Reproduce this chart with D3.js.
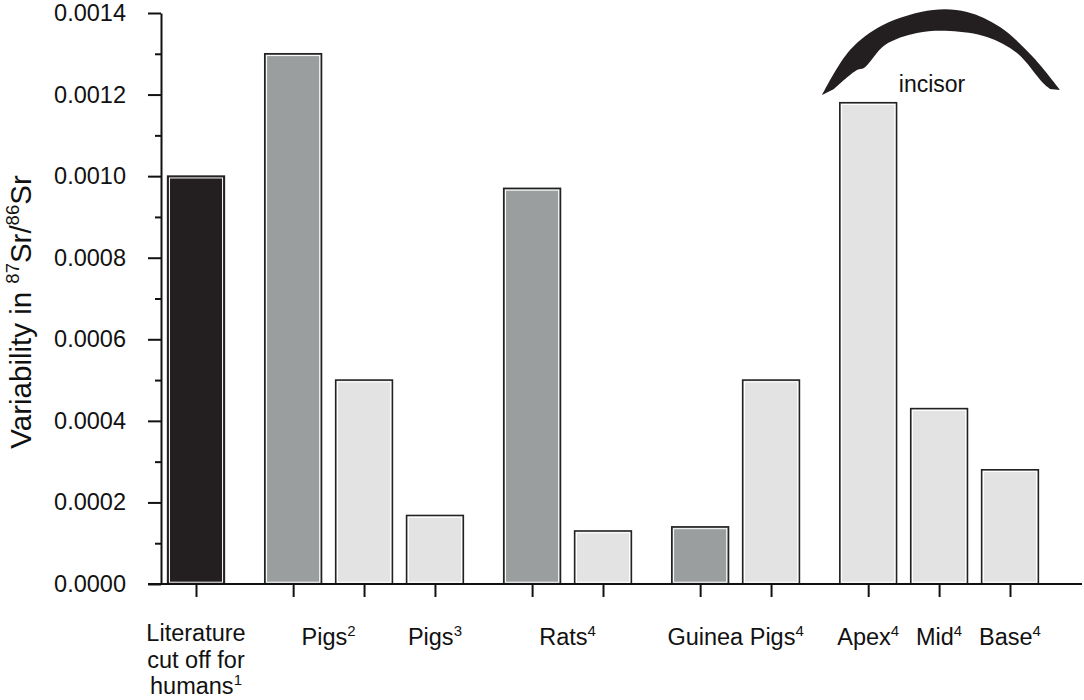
<!DOCTYPE html>
<html>
<head>
<meta charset="utf-8">
<script src="https://cdn.jsdelivr.net/npm/d3@7"></script>
<style>
  body { margin: 0; background: #fff; }
  text { font-family: "Liberation Sans", Arial, sans-serif; fill: #111; }
</style>
</head>
<body>
<div class="canva"></div>
<script>
// bar labels (notes are the superscript reference numbers)
const barLabels = ["Literature cut off for humans", "Pigs", "Pigs", "Pigs", "Rats", "Rats", "Guinea Pigs", "Guinea Pigs", "Apex", "Mid", "Base"]
const labelNotes = ["1", "2", "2", "3", "4", "4", "4", "4", "4", "4", "4"]
const values = [0.0010, 0.0013, 0.0005, 0.000168, 0.00097, 0.00013, 0.00014, 0.0005, 0.00118, 0.00043, 0.00028]
const shades = ["black", "dark", "light", "light", "dark", "light", "dark", "light", "light", "light", "light"]
const groups = [0, 1, 1, 1, 2, 2, 3, 3, 4, 4, 4]
const yTicks = [0, 0.0002, 0.0004, 0.0006, 0.0008, 0.0010, 0.0012, 0.0014]
const yMinorTicks = [0.0001, 0.0003, 0.0005, 0.0007, 0.0009, 0.0011, 0.0013]

const colors = {black: "#231f20", dark: "#9b9e9e", light: "#e3e3e3"}

const W = 1084, H = 700
const svg = d3.select('.canva').append("svg")
  .attr("width", W).attr("height", H)

const gap = 0.37
const slot = values.map((d, i) => i + groups[i] * gap)

const x = d3.scaleLinear()
  .domain([0, d3.max(slot)])
  .range([196, 1010])

const y = d3.scaleLinear()
  .domain([0, 0.0014])
  .range([584, 13])

const barW = (x(1) - x(0)) * 0.8

// bars
const bars = svg.selectAll("g.bar")
  .data(values)
  .enter().append("g").attr("class", "bar")

bars.append("rect")
  .attr("x", (d, i) => x(slot[i]) - barW / 2)
  .attr("y", d => y(d))
  .attr("width", barW)
  .attr("height", d => y(0) - y(d))
  .attr("fill", (d, i) => colors[shades[i]])
  .attr("stroke", "#222")
  .attr("stroke-width", 1.6)

// thin white inner edge
bars.append("rect")
  .attr("x", (d, i) => x(slot[i]) - barW / 2 + 1.8)
  .attr("y", d => y(d) + 1.8)
  .attr("width", barW - 3.6)
  .attr("height", d => Math.max(0, y(0) - y(d) - 3.6))
  .attr("fill", "none")
  .attr("stroke", "#fff")
  .attr("stroke-width", 1)

// x axis
const xAxis = svg.append("g")
  .attr("transform", `translate(0, ${y(0)})`)
  .call(d3.axisBottom(x).tickValues(slot).tickFormat("").tickSize(13).tickSizeOuter(0))
xAxis.select(".domain").remove()
xAxis.selectAll("line").attr("stroke", "#111").attr("stroke-width", 2)

svg.append("line")
  .attr("x1", 148).attr("x2", 1082)
  .attr("y1", y(0)).attr("y2", y(0))
  .attr("stroke", "#111").attr("stroke-width", 2)

// y axis
const yMinor = svg.append("g")
  .attr("transform", "translate(161, 0)")
  .call(d3.axisLeft(y).tickValues(yMinorTicks).tickFormat("").tickSize(6).tickSizeOuter(0))
yMinor.select(".domain").remove()
yMinor.selectAll("line").attr("stroke", "#111").attr("stroke-width", 2)

const yAxis = svg.append("g")
  .attr("transform", "translate(161, 0)")
  .call(d3.axisLeft(y).tickValues(yTicks).tickFormat(d3.format(".4f")).tickSize(13).tickSizeOuter(0).tickPadding(22))
yAxis.select(".domain").attr("stroke", "#111").attr("stroke-width", 2)
yAxis.selectAll("line").attr("stroke", "#111").attr("stroke-width", 2)
yAxis.selectAll("text")
  .style("font-family", '"Liberation Sans", Arial, sans-serif')
  .style("font-size", "23.5px").attr("fill", "#111")

// y title
const yTitle = svg.append("text")
  .attr("transform", "translate(31, 312) rotate(-90)")
  .attr("text-anchor", "middle")
  .style("font-size", "29.5px")
yTitle.append("tspan").text("Variability in ")
yTitle.append("tspan").text("87").style("font-size", "18.5px").attr("dy", -12)
yTitle.append("tspan").text("Sr/").attr("dy", 12)
yTitle.append("tspan").text("86").style("font-size", "18.5px").attr("dy", -12)
yTitle.append("tspan").text("Sr").attr("dy", 12)

// category labels, one per run of equal label + note
const labelGroups = []
barLabels.forEach((l, i) => {
  const key = l + labelNotes[i]
  const last = labelGroups[labelGroups.length - 1]
  if (last && last.key === key) last.idx.push(i)
  else labelGroups.push({key: key, name: l, note: labelNotes[i], idx: [i]})
})

labelGroups.forEach(g => {
  const cx = d3.mean(g.idx, i => x(slot[i]))
  const multi = g.name === "Literature cut off for humans"
  const lines = multi ? ["Literature", "cut off for", "humans"] : [g.name]
  lines.forEach((ln, j) => {
    const t = svg.append("text")
      .attr("x", cx).attr("y", (multi ? 641 : 645) + j * 26.5)
      .attr("text-anchor", "middle")
      .style("font-size", "23.5px")
    t.append("tspan").text(ln)
    if (j === lines.length - 1) {
      t.append("tspan").text(g.note).style("font-size", "15px").attr("dy", -9)
    }
  })
})

// incisor sketch
const outer = [[822, 95], [850, 50], [883, 25], [933, 10], [967, 12], [1000, 27], [1033, 57], [1060, 90]]
const inner = [[1050, 89], [1043, 83], [1017, 53], [987, 37], [950, 31], [917, 33], [885, 45], [864, 68], [857, 70], [834, 89]]
const line = d3.line().curve(d3.curveCatmullRom)
svg.append("path")
  .attr("d", line(outer) + "L" + line(inner).slice(1) + "Z")
  .attr("fill", "#231f20")

svg.append("text")
  .attr("x", 932).attr("y", 92)
  .attr("text-anchor", "middle")
  .style("font-size", "23px")
  .text("incisor")
</script>
</body>
</html>
